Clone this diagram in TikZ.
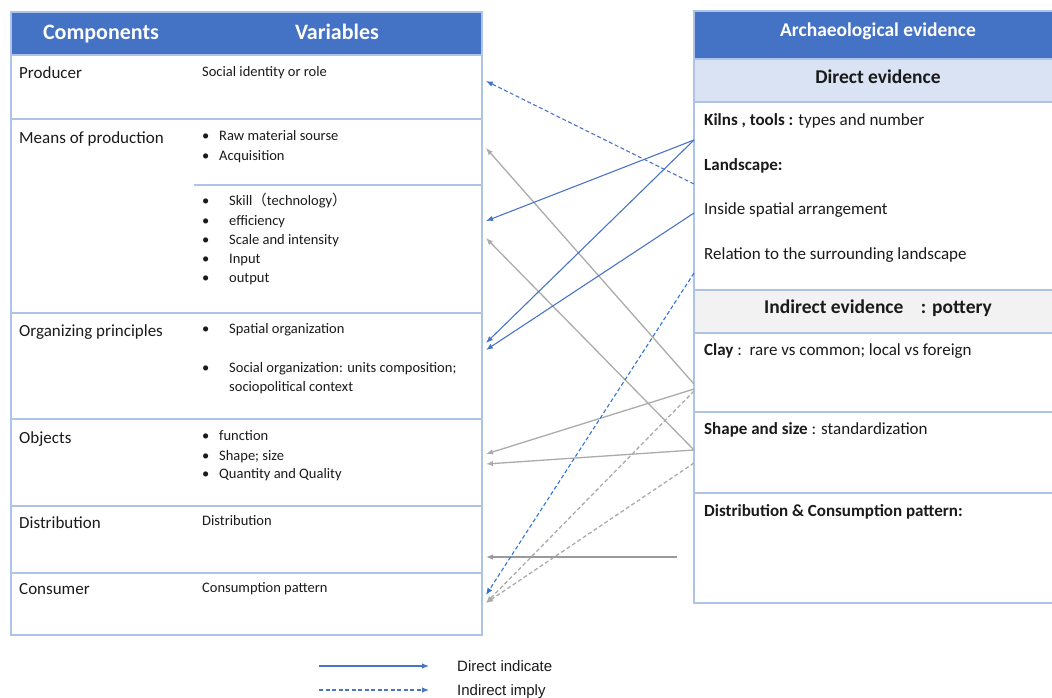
\documentclass[tikz,border=0pt]{standalone}
\usepackage{fontspec}
\setmainfont{Carlito}
\newfontfamily\cjk{Noto Sans CJK SC}
\newfontfamily\legendfont{Liberation Sans}
\usetikzlibrary{arrows.meta}

\definecolor{hdrblue}{HTML}{4472C4}
\definecolor{gridblue}{HTML}{ADC3E8}
\definecolor{bandblue}{HTML}{DAE3F3}
\definecolor{bandgrey}{HTML}{F2F2F2}
\definecolor{linkblue}{HTML}{4A74C8}
\definecolor{linkbright}{HTML}{2E75D6}
\definecolor{linkgrey}{HTML}{ABABAB}
\definecolor{linkdark}{HTML}{9A9A9A}
\definecolor{ink}{HTML}{1A1A1A}

\tikzset{
  grid/.style={draw=gridblue, line width=1.4pt},
  hdrtext/.style={anchor=base, text=white, font=\fontsize{22}{26}\selectfont\bfseries, inner sep=0pt},
  bandtext/.style={anchor=base, text=ink, font=\fontsize{19.5}{23}\selectfont\bfseries, inner sep=0pt},
  comptext/.style={anchor=base west, text=ink, font=\fontsize{17}{20}\selectfont, inner sep=0pt},
  vartext/.style={anchor=base west, text=ink, font=\fontsize{14.5}{17}\selectfont, inner sep=0pt},
  evtext/.style={anchor=base west, text=ink, font=\fontsize{17}{20}\selectfont, inner sep=0pt},
  legtext/.style={anchor=base west, text=ink, font=\legendfont\fontsize{15}{18}\selectfont, inner sep=0pt},
  tip/.style={-{Latex[length=7pt,width=5.5pt]}},
  direct/.style={tip, draw=linkblue, line width=1.1pt},
  implied/.style={tip, draw=linkblue, line width=1.1pt, dash pattern=on 4pt off 2.5pt},
  impliedb/.style={tip, draw=linkbright, line width=1.1pt, dash pattern=on 4pt off 2.5pt},
  greyline/.style={tip, draw=linkgrey, line width=1.3pt},
  greydark/.style={tip, draw=linkdark, line width=1.3pt},
  greydash/.style={tip, draw=linkgrey, line width=1.3pt, dash pattern=on 4pt off 2.5pt},
}

\begin{document}
\begin{tikzpicture}[x=1pt,y=-1pt]
\useasboundingbox (0,0) rectangle (1052,697);

% ---------- left table: components and variables ----------
\fill[hdrblue] (11,12) rectangle (482,55);
\draw[grid] (11,12) rectangle (482,635);
\foreach \yy in {55,119,313,419,506,573} \draw[grid] (11,\yy) -- (482,\yy);
\draw[grid] (194,185) -- (482,185);

\node[hdrtext] (hcomp) at (101,39) {Components};
\node[hdrtext] (hvar) at (337,39) {Variables};

\node[comptext] (cprod) at (19,78) {Producer};
\node[comptext] (cmeans) at (19,143) {Means of production};
\node[comptext] (corg) at (19,336) {Organizing principles};
\node[comptext] (cobj) at (19,443) {Objects};
\node[comptext] (cdist) at (19,528) {Distribution};
\node[comptext] (ccons) at (19,594) {Consumer};

\node[vartext] (vprod) at (202,76) {Social identity or role};

\foreach \yy/\tt [count=\i] in {140/Raw material sourse,160/Acquisition}{
  \node[vartext] (bm\i) at (202,\yy) {•};
  \node[vartext] (vm\i) at (219,\yy) {\tt};
}
\node[vartext] (bs1) at (202,205) {•};
\node[vartext] (vs1) at (229,205) {Skill{\cjk （}technology{\cjk ）}};
\foreach \yy/\tt [count=\i from 2] in {225/efficiency,244/Scale and intensity,263/Input,282/output}{
  \node[vartext] (bs\i) at (202,\yy) {•};
  \node[vartext] (vs\i) at (229,\yy) {\tt};
}

\node[vartext] (bo1) at (202,333) {•};
\node[vartext] (vo1) at (229,333) {Spatial organization};
\node[vartext] (bo2) at (202,372) {•};
\node[vartext] (vo2) at (229,372) {Social organization: units composition;};
\node[vartext] (vo3) at (229,391) {sociopolitical context};

\foreach \yy/\tt [count=\i] in {440/function,460/Shape; size,478/Quantity and Quality}{
  \node[vartext] (bj\i) at (202,\yy) {•};
  \node[vartext] (vj\i) at (219,\yy) {\tt};
}

\node[vartext] (vdist) at (202,525) {Distribution};
\node[vartext] (vcons) at (202,592) {Consumption pattern};

% ---------- right table: archaeological evidence ----------
\fill[hdrblue] (694,11) rectangle (1060,59);
\fill[bandblue] (694,59) rectangle (1060,102);
\fill[bandgrey] (694,290) rectangle (1060,333);
\draw[grid] (1060,11) -- (694,11) -- (694,603) -- (1060,603);
\foreach \yy in {59,102,290,333,412,493} \draw[grid] (694,\yy) -- (1060,\yy);

\node[bandtext, text=white] (harch) at (878,36) {Archaeological evidence};
\node[bandtext] (hdirect) at (878,83) {Direct evidence};
\node[bandtext] (hindirect) at (878,313) {Indirect evidence\hspace{0.9em}: pottery};

\node[evtext] (ekiln) at (704,125) {\textbf{Kilns , tools :} types and number};
\node[evtext] (eland) at (704,170) {\textbf{Landscape:}};
\node[evtext] (einside) at (704,214) {Inside spatial arrangement};
\node[evtext] (erel) at (704,259) {Relation to the surrounding landscape};
\node[evtext] (eclay) at (704,355) {\textbf{Clay} :\ \ rare vs common; local vs foreign};
\node[evtext] (eshape) at (704,434) {\textbf{Shape and size} : standardization};
\node[evtext] (edist) at (704,516) {\textbf{Distribution \& Consumption pattern:}};

% ---------- connector end points ----------
\coordinate (rKiln) at (694,140);
\coordinate (rLand) at (694,184);
\coordinate (rInside) at (694,213);
\coordinate (rRel) at (694,273);
\coordinate (rClayA) at (694,384);
\coordinate (rClayB) at (694,389);
\coordinate (rClayC) at (694,391);
\coordinate (rShape) at (694,450);
\coordinate (rShapeD) at (694,463);
\coordinate (rDist) at (677,557);

\coordinate (lProd) at (486,81);
\coordinate (lRaw) at (486,148);
\coordinate (lSkillA) at (486,221);
\coordinate (lSkillB) at (486,238);
\coordinate (lOrgA) at (486,343);
\coordinate (lOrgB) at (486,350);
\coordinate (lObjA) at (486,454);
\coordinate (lObjB) at (486,464);
\coordinate (lDist) at (486,557);
\coordinate (lConsA) at (486,595);
\coordinate (lConsB) at (486,603);

% ---------- connectors ----------
\draw[greyline] (rClayA) -- (lRaw);
\draw[greyline] (rShape) -- (lSkillB);
\draw[greyline] (rClayB) -- (lObjA);
\draw[greyline] (rShape) -- (lObjB);
\draw[greydark] (rDist) -- (lDist);
\draw[greydash] (rClayC) -- (lConsB);
\draw[greydash] (rShapeD) -- (lConsB);

\draw[implied] (rLand) -- (lProd);
\draw[direct] (rKiln) -- (lSkillA);
\draw[direct] (rKiln) -- (lOrgA);
\draw[direct] (rInside) -- (lOrgB);
\draw[impliedb] (rRel) -- (lConsA);

% ---------- legend ----------
\coordinate (legA) at (319,666);
\coordinate (legB) at (429,666);
\coordinate (legC) at (319,690);
\coordinate (legD) at (429,690);
\draw[direct] (legA) -- (legB);
\draw[implied] (legC) -- (legD);
\node[legtext] (ldirect) at (457,671) {Direct indicate};
\node[legtext] (limply) at (457,695) {Indirect imply};
\end{tikzpicture}
\end{document}
